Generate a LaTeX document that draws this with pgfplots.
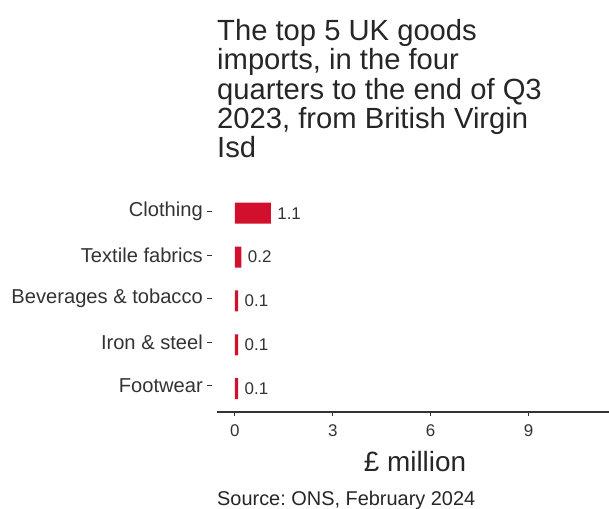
\documentclass[border=0pt]{standalone}
\usepackage{pgfplots}
\pgfplotsset{compat=1.18}
\usepackage{fontspec}
\setmainfont{Liberation Sans}
\definecolor{barred}{HTML}{D20F2D}
\definecolor{axgray}{HTML}{333333}
\begin{document}
\frenchspacing
\begin{tikzpicture}[x=1bp,y=1bp]
\path[use as bounding box] (0,0) rectangle (609,509);
\begin{axis}[
  at={(217bp,97bp)}, anchor=south west,
  scale only axis, width=392bp, height=222bp,
  xmin=-0.55, xmax=11.47, ymin=0.47, ymax=5.53,
  axis x line*=bottom, axis y line=none,
  x axis line style={line width=1.5pt, color=axgray, -},
  xtick={0,3,6,9},
  xtick style={color=axgray, line width=1pt},
  tick align=outside, major tick length=4bp,
  xticklabel style={font=\fontsize{17}{17}\selectfont, color=axgray, yshift=-5bp},
  /pgf/number format/assume math mode=true,
  xbar, bar width=21bp,
  clip=false,
  nodes near coords,
  nodes near coords style={font=\fontsize{17}{17}\selectfont, color=axgray, anchor=west, xshift=3bp},
  point meta=explicit symbolic,
]
\addplot[fill=barred, draw=none] coordinates {
  (1.1,5) [1.1]
  (0.2,4) [0.2]
  (0.1,3) [0.1]
  (0.1,2) [0.1]
  (0.1,1) [0.1]
};
\end{axis}
% category labels with tick dashes
\foreach \lab/\yy in {Clothing/297.3, Textile fabrics/253.8, Beverages \& tobacco/210.3, Iron \& steel/166.8, Footwear/123.3}{
  \node[anchor=east, inner sep=0pt, font=\fontsize{20.2}{20.2}\selectfont, color=axgray] at (203,\yy) {\lab};
  \draw[axgray, line width=1pt] (207,\yy) -- (212,\yy);
}
\node[anchor=north west, inner sep=0pt, align=left, font=\fontsize{29.3}{29.5}\selectfont, color=black!85] at (217,490)
  {The top 5 UK goods\\imports, in the four\\quarters to the end of Q3\\2023, from British Virgin\\Isd};
\node[anchor=base, inner sep=0pt, font=\fontsize{28}{28}\selectfont, color=black!85] at (415,37) {£ million};
\node[anchor=base west, inner sep=0pt, font=\fontsize{20}{20}\selectfont, color=black!85] at (217,3) {Source: ONS, February 2024};
\end{tikzpicture}
\end{document}
